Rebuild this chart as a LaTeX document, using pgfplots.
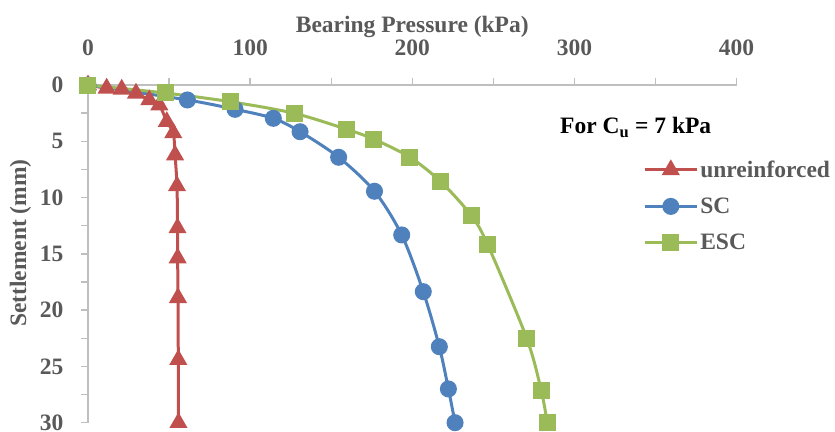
\documentclass[border=0pt]{standalone}
\usepackage{pgfplots}
\pgfplotsset{compat=1.18}
\usepackage{fontspec}
\setmainfont{Liberation Serif}

\definecolor{redline}{HTML}{C0504D}
\definecolor{blueline}{HTML}{4F81BD}
\definecolor{greenline}{HTML}{9BBB59}
\definecolor{labelgray}{HTML}{595959}
\definecolor{axisgray}{HTML}{BFBFBF}

\newcommand{\chartfont}{\fontsize{23.5}{23.5}\selectfont\bfseries}

\begin{document}
\begin{tikzpicture}
\useasboundingbox (0,0) rectangle (835pt,431pt);
\begin{axis}[
  at={(88pt,8.3pt)}, anchor=south west,
  scale only axis, width=648.5pt, height=337.7pt,
  xmin=0, xmax=400, ymin=0, ymax=30,
  y dir=reverse,
  axis x line*=top, axis y line*=left,
  axis line style={axisgray, line width=1.3pt},
  xtick={0,100,...,400}, ytick={0,5,...,30},
  minor tick num=1,
  tick align=outside,
  major tick length=7pt, minor tick length=7pt,
  tick style={axisgray, line width=1.3pt},
  /pgf/number format/assume math mode=true,
  tick label style={font=\chartfont, text=labelgray},
  xticklabel shift=19pt,
  yticklabel shift=14pt,
  clip=false,
  legend style={at={(0.856,0.782)}, anchor=north west, draw=none, fill=none,
    inner sep=0pt, font=\chartfont, text=labelgray,
    row sep=15pt, legend cell align=left},
  legend image code/.code={\draw[mark repeat=2,mark phase=2,#1]
    plot coordinates {(0pt,0pt)(26pt,0pt)(52pt,0pt)};},
]
\addplot[redline, line width=3pt, smooth, mark=triangle*, mark size=7.5pt,
  mark options={solid}] coordinates {
  (0,0) (11.5,0.29) (20.8,0.38) (29.6,0.74) (37.8,1.33) (44.0,1.78)
  (48.6,3.26) (52.6,4.26) (53.7,6.22) (54.9,8.97) (55.2,12.7)
  (55.3,15.37) (55.5,18.9) (55.7,24.4) (55.8,30.0)};
\addlegendentry{unreinforced}
\addplot[blueline, line width=3pt, smooth, mark=*, mark size=7pt,
  mark options={solid}] coordinates {
  (0,0) (61.3,1.33) (90.7,2.16) (114.3,2.96) (130.8,4.15) (154.6,6.42)
  (176.7,9.44) (193.5,13.32) (206.8,18.36) (216.7,23.25) (222.3,27.0)
  (226.4,30.0)};
\addlegendentry{SC}
\addplot[greenline, line width=3pt, smooth, mark=square*, mark size=7pt,
  mark options={solid}] coordinates {
  (0,0) (47.5,0.71) (87.6,1.48) (127.1,2.51) (159.6,3.94) (176.4,4.82)
  (198.6,6.42) (217.6,8.59) (236.4,11.59) (246.6,14.21) (270.6,22.5)
  (279.5,27.1) (283.3,30.0)};
\addlegendentry{ESC}
\node[anchor=base, font=\chartfont, text=labelgray]
  at (rel axis cs:0.5,1.155) {Bearing Pressure (kPa)};
\node[rotate=90, font=\chartfont, text=labelgray]
  at (rel axis cs:-0.104,0.532) {Settlement (mm)};
\node[anchor=base west, font=\chartfont]
  at (rel axis cs:0.7227,0.857) {For C\textsubscript{u} = 7 kPa};
\end{axis}
\end{tikzpicture}
\end{document}
